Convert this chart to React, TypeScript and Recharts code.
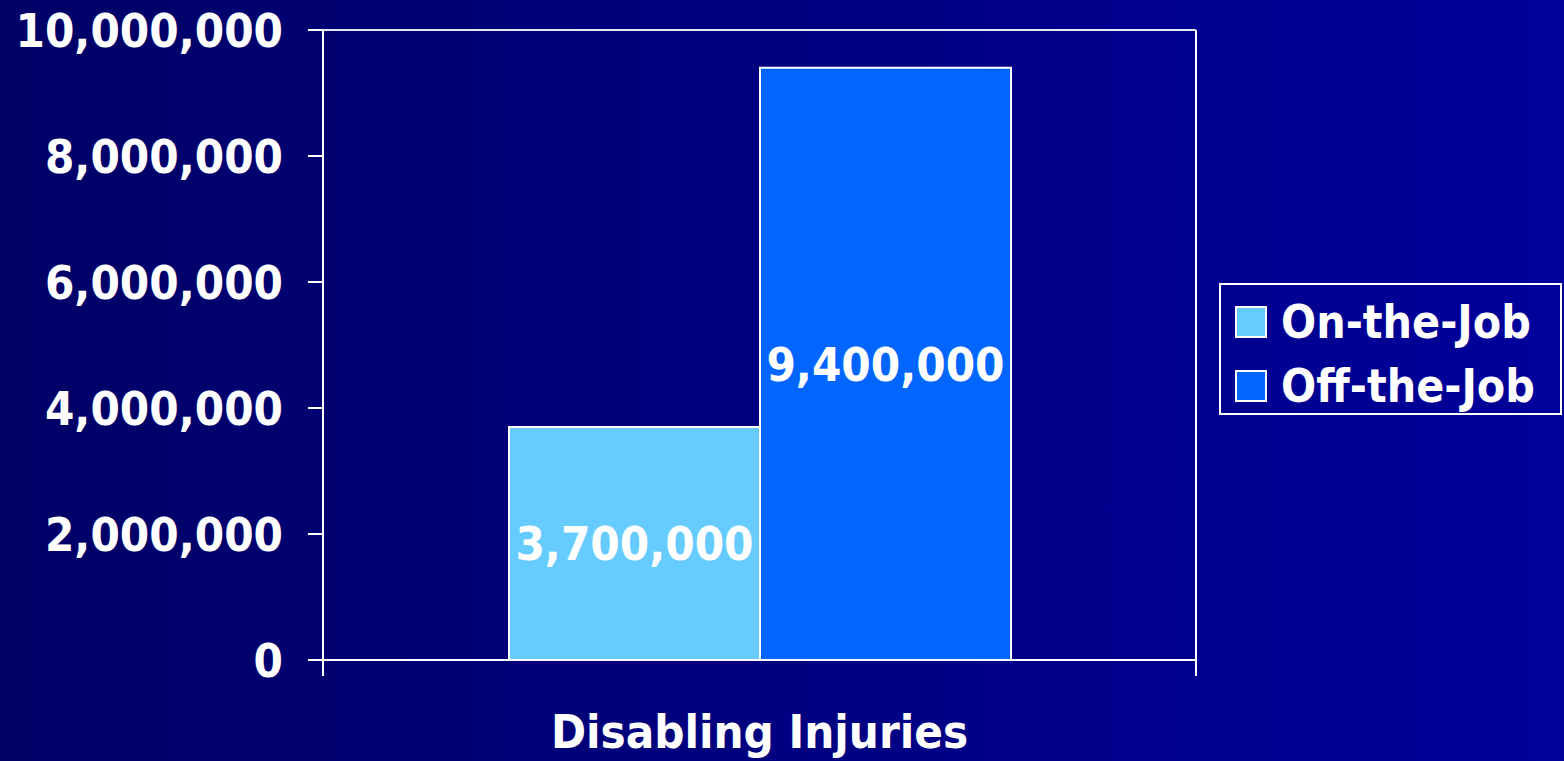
import { BarChart, Bar, XAxis, YAxis, CartesianGrid, LabelList } from 'recharts';

const categories = ['Disabling Injuries'];
const onTheJob = [3700000];
const offTheJob = [9400000];
const yTicks = [0, 2000000, 4000000, 6000000, 8000000, 10000000];
const seriesNames = ['On-the-Job', 'Off-the-Job'];
const seriesColors = ['#66ccff', '#0066ff'];

const FONT = "'DejaVu Sans Condensed', 'DejaVu Sans', sans-serif";

const data = categories.map((name, i) => ({
  name,
  on: onTheJob[i],
  off: offTheJob[i],
}));

const fmt = (v: number) => v.toLocaleString('en-US');

// category label with Excel-style tick marks at the category boundaries
// (recharts hands the tick a y that sits 8px under the axis line)
function CategoryTick({ x = 0, y = 0, payload, bandWidth = 0 }: any) {
  const half = bandWidth / 2;
  const axisY = y - 8;
  return (
    <g>
      <line x1={x - half} y1={axisY} x2={x - half} y2={axisY + 16} stroke="#fff" strokeWidth={2} />
      <line x1={x + half} y1={axisY} x2={x + half} y2={axisY + 16} stroke="#fff" strokeWidth={2} />
      <text
        x={x}
        y={axisY + 88}
        textAnchor="middle"
        fill="#fff"
        fontSize={47}
        fontWeight={700}
        fontFamily={FONT}
      >
        {payload?.value}
      </text>
    </g>
  );
}

function LegendBox() {
  return (
    <div
      style={{
        position: 'absolute',
        left: 1219,
        top: 283,
        width: 343,
        height: 132,
        border: '2px solid #fff',
        padding: '5px 0 0 14px',
        boxSizing: 'border-box',
        fontFamily: FONT,
        fontWeight: 700,
        fontSize: 46,
        color: '#fff',
      }}
    >
      {seriesNames.map((name, i) => (
        <div key={name} style={{ display: 'flex', alignItems: 'center', height: 64 }}>
          <span
            style={{
              display: 'inline-block',
              width: 28,
              height: 28,
              background: seriesColors[i],
              border: '2px solid #fff',
              marginRight: 14,
            }}
          />
          {name}
        </div>
      ))}
    </div>
  );
}

export default function App() {
  const width = 1564;
  const height = 761;
  const margin = { top: 30, right: 367, bottom: 0, left: 0 };
  const plotWidth = width - margin.left - margin.right - 323 - 1;
  return (
    <div
      style={{
        position: 'fixed',
        left: 0,
        top: 0,
        width,
        height,
        background: 'linear-gradient(to right, #000066, #00009b)',
      }}
    >
      <BarChart
        width={width}
        height={height}
        data={data}
        margin={margin}
        barCategoryGap={186}
        barGap={0}
      >
        <CartesianGrid horizontal vertical={false} stroke="#fff" strokeWidth={2} strokeOpacity={0.9} />
        <XAxis
          dataKey="name"
          axisLine={{ stroke: '#fff', strokeWidth: 2 }}
          tickLine={false}
          tick={<CategoryTick bandWidth={plotWidth} />}
          interval={0}
          height={101}
        />
        <YAxis
          yAxisId="left"
          width={323}
          domain={[0, 10000000]}
          ticks={yTicks}
          tickFormatter={fmt}
          axisLine={{ stroke: '#fff', strokeWidth: 2 }}
          tickLine={{ stroke: '#fff', strokeWidth: 2 }}
          tickSize={15}
          tickMargin={25}
          tick={{ fill: '#fff', fontSize: 47, fontWeight: 700, fontFamily: FONT }}
        />
        <YAxis
          yAxisId="right"
          orientation="right"
          width={1}
          domain={[0, 10000000]}
          axisLine={{ stroke: '#fff', strokeWidth: 2 }}
          tick={false}
          tickLine={false}
        />
        <Bar yAxisId="left" dataKey="on" name={seriesNames[0]} fill={seriesColors[0]} stroke="#fff" strokeWidth={2} isAnimationActive={false}>
          <LabelList
            dataKey="on"
            position="center"
            formatter={(v: any) => fmt(Number(v))}
            fill="#fff"
            fontSize={47}
            fontWeight={700}
            fontFamily={FONT}
          />
        </Bar>
        <Bar yAxisId="left" dataKey="off" name={seriesNames[1]} fill={seriesColors[1]} stroke="#fff" strokeWidth={2} isAnimationActive={false}>
          <LabelList
            dataKey="off"
            position="center"
            formatter={(v: any) => fmt(Number(v))}
            fill="#fff"
            fontSize={47}
            fontWeight={700}
            fontFamily={FONT}
          />
        </Bar>
      </BarChart>
      <LegendBox />
    </div>
  );
}
